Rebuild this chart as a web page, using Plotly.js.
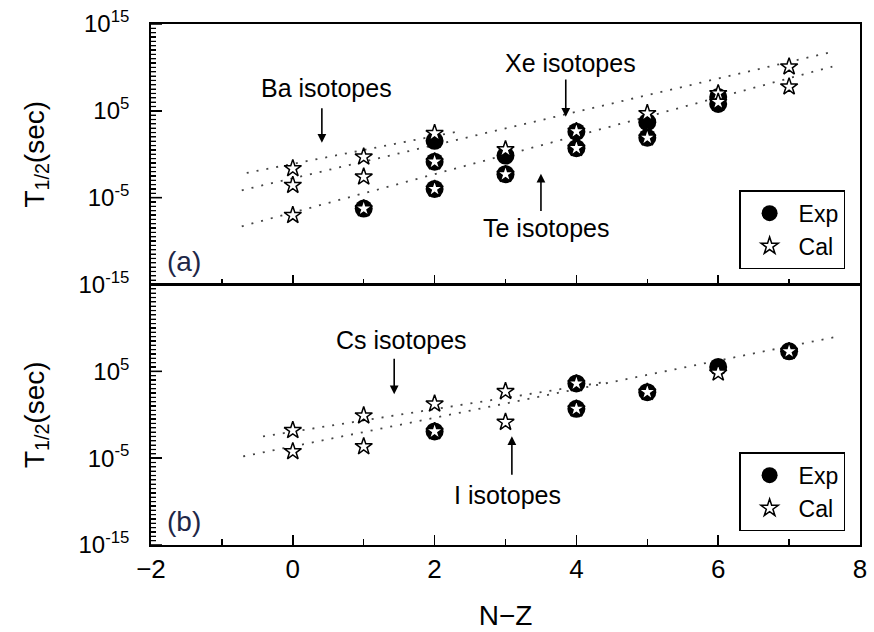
<!DOCTYPE html>
<html>
<head>
<meta charset="utf-8">
<script src="https://cdn.plot.ly/plotly-3.0.1.min.js"></script>
<style>html,body{margin:0;padding:0;background:#fff;}</style>
</head>
<body>
<div id="chart" style="width:874px;height:632px;"></div>
<script>
// ---- Panel (a): Ba, Xe, Te isotopes (half-lives in seconds) ----
const baCalX = [0, 1, 2];
const baCalY = [2.3e-2, 5.0e-1, 2.5e2];
const baExpX = [2];
const baExpY = [3.5e1];
const baFitX = [-0.65, 2.35];
const baFitY = [7.1e-3, 4.5e2];

const xeCalX = [0, 1, 2, 3, 4, 5, 6, 7];
const xeCalY = [2.7e-4, 2.5e-3, 1.4e-1, 3.5e0, 4.5e2, 5.0e4, 1.0e7, 1.2e10];
const xeExpX = [2, 3, 4, 5, 6];
const xeExpY = [1.4e-1, 7.0e-1, 4.0e2, 5.0e3, 4.0e6];
const xeFitX = [-0.72, 7.61];
const xeFitY = [7.1e-5, 6.3e11];

const teCalX = [0, 1, 2, 3, 4, 5, 6, 7];
const teCalY = [9.3e-8, 5.5e-7, 1.0e-4, 5.0e-3, 5.0e0, 8.0e1, 1.0e6, 6.0e7];
const teExpX = [1, 2, 3, 4, 5, 6];
const teExpY = [5.5e-7, 1.0e-4, 5.0e-3, 5.0e0, 8.0e1, 6.3e5];
const teFitX = [-0.72, 7.61];
const teFitY = [5.0e-9, 1.26e10];

// ---- Panel (b): Cs, I isotopes ----
const csCalX = [0, 1, 2, 3, 4];
const csCalY = [1.6e-2, 7.8e-1, 1.8e1, 4.9e2, 4.0e3];
const csExpX = [4];
const csExpY = [4.0e3];
const csFitX = [-0.42, 4.41];
const csFitY = [3.2e-3, 6.0e3];

const iCalX = [0, 1, 2, 3, 4, 5, 6, 7];
const iCalY = [5.9e-5, 2.2e-4, 1.2e-2, 1.4e-1, 4.8e0, 4.0e2, 6.6e4, 2.0e7];
const iExpX = [2, 4, 5, 6, 7];
const iExpY = [1.2e-2, 4.8e0, 4.0e2, 3.2e5, 2.0e7];
const iFitX = [-0.70, 7.66];
const iFitY = [1.6e-5, 9.3e8];

// ---- axis ticks ----
const xTickVals = [-2, 0, 2, 4, 6, 8];
const yTopTickVals = [1e-15, 1e-5, 1e5, 1e15];
const yTopTickText = ['10<sup>-15</sup>', '10<sup>-5</sup>', '10<sup>5</sup>', '10<sup>15</sup>'];
const yBotTickVals = [1e-15, 1e-5, 1e5];
const yBotTickText = ['10<sup>-15</sup>', '10<sup>-5</sup>', '10<sup>5</sup>'];
const yMajorExp = [-15, -5, 5, 15];   // decades carrying long ticks
const yRangeExp = [-15, 15];

const FONT = 'Liberation Sans, Arial, sans-serif';
const dotLine = {color: '#444', width: 1.8, dash: '2px,8px'};
const expMarker = {symbol: 'circle', size: 18, color: '#000'};
const calMarker = {symbol: 'star', size: 13, color: '#fff', line: {color: '#000', width: 1.5}};

function fit(x, y, xa, ya) {
  return {x: x, y: y, xaxis: xa, yaxis: ya, mode: 'lines', line: dotLine, showlegend: false, hoverinfo: 'skip'};
}
function exp(x, y, xa, ya, lg) {
  return {x: x, y: y, xaxis: xa, yaxis: ya, mode: 'markers', marker: expMarker, name: 'Exp',
          showlegend: !!lg, legend: lg || 'legend'};
}
function cal(x, y, xa, ya, lg) {
  return {x: x, y: y, xaxis: xa, yaxis: ya, mode: 'markers', marker: calMarker, name: 'Cal',
          showlegend: !!lg, legend: lg || 'legend'};
}

const data = [
  fit(baFitX, baFitY, 'x2', 'y2'), fit(xeFitX, xeFitY, 'x2', 'y2'), fit(teFitX, teFitY, 'x2', 'y2'),
  exp(xeExpX, xeExpY, 'x2', 'y2', 'legend'), exp(baExpX, baExpY, 'x2', 'y2'), exp(teExpX, teExpY, 'x2', 'y2'),
  cal(xeCalX, xeCalY, 'x2', 'y2', 'legend'), cal(baCalX, baCalY, 'x2', 'y2'), cal(teCalX, teCalY, 'x2', 'y2'),
  fit(csFitX, csFitY, 'x', 'y'), fit(iFitX, iFitY, 'x', 'y'),
  exp(csExpX, csExpY, 'x', 'y', 'legend2'), exp(iExpX, iExpY, 'x', 'y'),
  cal(csCalX, csCalY, 'x', 'y', 'legend2'), cal(iCalX, iCalY, 'x', 'y')
];

const xBase = {
  range: [-2, 8], tickmode: 'array', tickvals: xTickVals,
  ticks: 'inside', ticklen: 10, tickwidth: 1.5, tickcolor: '#000',
  minor: {dtick: 1, tick0: 0, ticks: 'inside', ticklen: 6, tickwidth: 1.5, tickcolor: '#000'},
  showline: true, linewidth: 1.8, linecolor: '#000', mirror: true,
  showgrid: false, zeroline: false,
  tickfont: {family: FONT, size: 26, color: '#000'}
};
const yBase = {
  type: 'log', range: yRangeExp, tickmode: 'array',
  ticks: 'inside', ticklen: 11, tickwidth: 1.6, tickcolor: '#000',
  minor: {dtick: 0.5, ticks: 'inside', ticklen: 5, tickwidth: 1.2, tickcolor: '#000'},
  showline: true, linewidth: 1.8, linecolor: '#000', mirror: true,
  showgrid: false, zeroline: false, ticklabelstandoff: 15,
  tickfont: {family: FONT, size: 24, color: '#000'},
  title: {text: 'T<sub>1/2</sub>(sec)', font: {family: FONT, size: 28, color: '#000'}, standoff: 26}
};

// Left-axis tick marks (every half decade, longer at the labelled decades),
// laid along the axis in domain units so they always appear inside the frame.
const PLOT_W = 874 - 151 - 14;
function axisTickShapes(xref, yref) {
  const shapes = [];
  const span = yRangeExp[1] - yRangeExp[0];
  for (let e = yRangeExp[0]; e <= yRangeExp[1] + 1e-9; e += 0.5) {
    const isMajor = yMajorExp.indexOf(e) >= 0;
    const len = (isMajor ? 11 : 5) / PLOT_W;
    const f = (e - yRangeExp[0]) / span;
    shapes.push({type: 'line', xref: xref + ' domain', yref: yref + ' domain',
      x0: 0, x1: len, y0: f, y1: f, line: {color: '#000', width: isMajor ? 1.6 : 1.2}, layer: 'above'});
  }
  return shapes;
}

const annFont = {family: FONT, size: 25, color: '#000'};
function label(text, x, y, xa, ya) {
  return {text: text, x: x, y: y, xref: xa, yref: ya, showarrow: false, font: annFont, xanchor: 'center', yanchor: 'middle'};
}
function arrow(x, yTip, yTail, xa, ya) {
  return {text: '', x: x, y: yTip, ax: x, ay: yTail, xref: xa, yref: ya, axref: xa, ayref: ya,
          showarrow: true, arrowhead: 2, arrowsize: 1.1, arrowwidth: 1.6, arrowcolor: '#000', standoff: 0, startstandoff: 0};
}

const legendBase = {x: 0.979, xanchor: 'right', yanchor: 'top', bordercolor: '#000', borderwidth: 1.5,
  bgcolor: '#fff', font: {family: FONT, size: 23, color: '#000'}, itemwidth: 48, tracegroupgap: 0};

const layout = {
  width: 874, height: 632,
  margin: {l: 151, r: 14, t: 24, b: 87},
  paper_bgcolor: '#fff', plot_bgcolor: '#fff',
  font: {family: FONT, color: '#000'},
  xaxis: Object.assign({}, xBase, {anchor: 'y', domain: [0, 1],
    title: {text: 'N\u2212Z', font: {family: FONT, size: 28, color: '#000'}, standoff: 22}}),
  xaxis2: Object.assign({}, xBase, {anchor: 'y2', domain: [0, 1], matches: 'x', showticklabels: false}),
  yaxis: Object.assign({}, yBase, {anchor: 'x', domain: [0, 0.5], tickvals: yBotTickVals, ticktext: yBotTickText}),
  yaxis2: Object.assign({}, yBase, {anchor: 'x2', domain: [0.5, 1], tickvals: yTopTickVals, ticktext: yTopTickText}),
  legend: Object.assign({}, legendBase, {y: 0.681}),
  legend2: Object.assign({}, legendBase, {y: 0.178}),
  shapes: axisTickShapes('x2', 'y2').concat(axisTickShapes('x', 'y')),
  annotations: [
    label('Ba isotopes', 0.47, 7.64, 'x2', 'y2'),
    arrow(0.41, 1.32, 5.46, 'x2', 'y2'),
    label('Xe isotopes', 3.92, 10.5, 'x2', 'y2'),
    arrow(3.85, 4.31, 8.79, 'x2', 'y2'),
    label('Te isotopes', 3.57, -8.45, 'x2', 'y2'),
    arrow(3.50, -2.24, -6.72, 'x2', 'y2'),
    {text: '(a)', x: -1.53, y: -12.36, xref: 'x2', yref: 'y2', showarrow: false,
     font: {family: FONT, size: 28, color: '#1e2747'}},
    label('Cs isotopes', 1.54, 8.56, 'x', 'y'),
    arrow(1.43, 2.36, 6.61, 'x', 'y'),
    label('I isotopes', 3.03, -9.25, 'x', 'y'),
    arrow(3.09, -2.47, -7.07, 'x', 'y'),
    {text: '(b)', x: -1.53, y: -12.24, xref: 'x', yref: 'y', showarrow: false,
     font: {family: FONT, size: 28, color: '#1e2747'}}
  ]
};

Plotly.newPlot('chart', data, layout, {displayModeBar: false, staticPlot: true});
</script>
</body>
</html>
